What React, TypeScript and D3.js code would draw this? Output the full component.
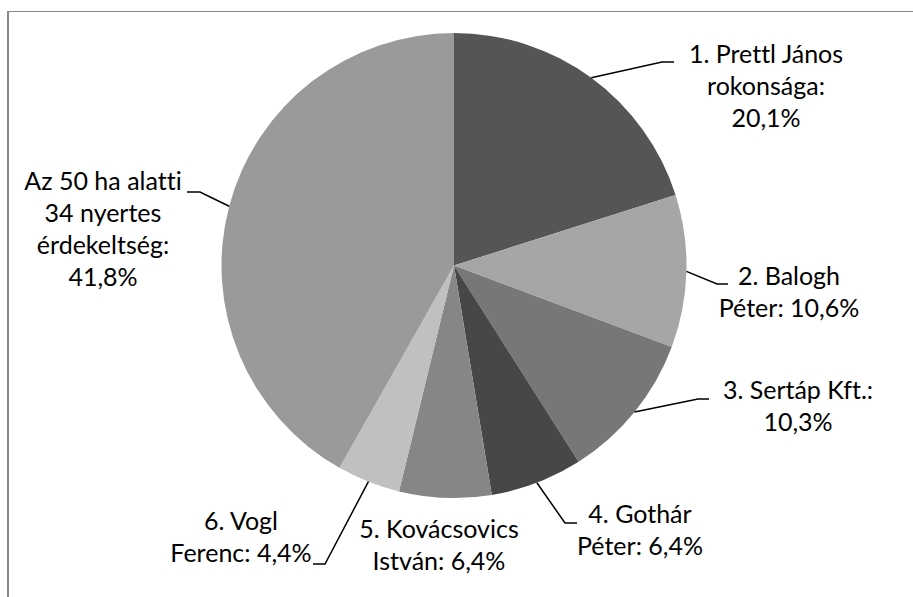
import React from "react";
import * as d3 from "d3";

const categories = [
  "1. Prettl János rokonsága",
  "2. Balogh Péter",
  "3. Sertáp Kft.",
  "4. Gothár Péter",
  "5. Kovácsovics István",
  "6. Vogl Ferenc",
  "Az 50 ha alatti 34 nyertes érdekeltség",
];
const values = [20.1, 10.6, 10.3, 6.4, 6.4, 4.4, 41.8];
const labelLines = [
  ["1. Prettl János", "rokonsága:", "20,1%"],
  ["2. Balogh", "Péter: 10,6%"],
  ["3. Sertáp Kft.:", "10,3%"],
  ["4. Gothár", "Péter: 6,4%"],
  ["5. Kovácsovics", "István: 6,4%"],
  ["6. Vogl", "Ferenc: 4,4%"],
  ["Az 50 ha alatti", "34 nyertes", "érdekeltség:", "41,8%"],
];

const colors = ["#555555", "#a6a6a6", "#777777", "#474747", "#868686", "#c0c0c0", "#9a9a9a"];

// label layout: text centre x, first baseline y, leader elbow & end (null = no leader)
const layout = [
  { cx: 766, y0: 63, elbow: [662, 62], end: [674, 62] },
  { cx: 789, y0: 285, elbow: [717, 284], end: [728, 284] },
  { cx: 798, y0: 399, elbow: [698, 399], end: [709, 399] },
  { cx: 640, y0: 523, elbow: [565, 523], end: [577, 523] },
  { cx: 439, y0: 538, elbow: null, end: null },
  { cx: 241, y0: 530, elbow: [325, 564], end: [313, 564] },
  { cx: 103, y0: 190, elbow: [200, 192], end: [187, 192] },
];

const W = 913;
const H = 597;
const CX = 454;
const CY = 265.5;
const R = 232.5;
const LINE_H = 32;

export default function App() {
  const pie = d3.pie<number>().sort(null).value((d) => d)(values);
  const arc = d3.arc<d3.PieArcDatum<number>>().innerRadius(0).outerRadius(R);
  const edge = d3.arc<d3.PieArcDatum<number>>().innerRadius(R).outerRadius(R);

  return (
    <svg
      width={W}
      height={H}
      style={{ position: "absolute", left: 0, top: 0, background: "#fff", fontVariantLigatures: "none" }}
      fontFamily="Lato, 'Open Sans', sans-serif"
    >
      <line x1={8} y1={11} x2={8} y2={H} stroke="#888" strokeWidth={2} />
      <line x1={7} y1={11.5} x2={W} y2={11.5} stroke="#888" strokeWidth={1} />
      <g transform={`translate(${CX},${CY})`}>
        {pie.map((d, i) => (
          <path key={categories[i]} d={arc(d) || ""} fill={colors[i]} />
        ))}
      </g>
      {pie.map((d, i) => {
        const L = layout[i];
        if (!L.elbow || !L.end) return null;
        const [px, py] = edge.centroid(d);
        const pts: [number, number][] = [
          [CX + px, CY + py],
          [L.elbow[0], L.elbow[1]],
          [L.end[0], L.end[1]],
        ];
        return (
          <path
            key={"l" + i}
            d={d3.line()(pts) || ""}
            fill="none"
            stroke="#000"
            strokeWidth={1.5}
          />
        );
      })}
      {labelLines.map((lines, i) => (
        <text key={"t" + i} textAnchor="middle" fontSize={25} fill="#000">
          {lines.map((ln, j) => (
            <tspan key={j} x={layout[i].cx} y={layout[i].y0 + j * LINE_H}>
              {ln}
            </tspan>
          ))}
        </text>
      ))}
    </svg>
  );
}
